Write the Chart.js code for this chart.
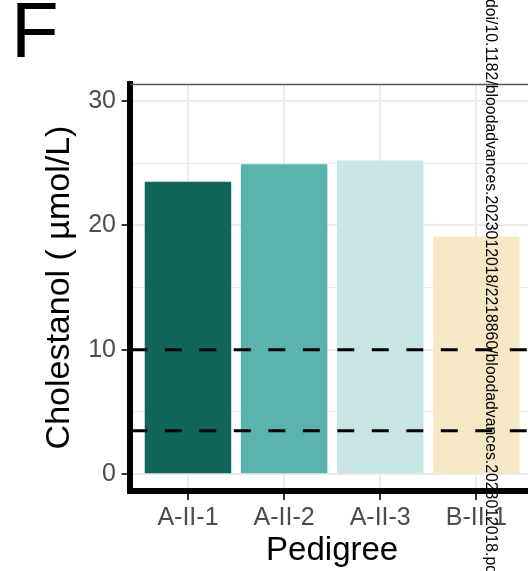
<!DOCTYPE html>
<html>
<head>
<meta charset="utf-8">
<script src="https://cdn.jsdelivr.net/npm/chart.js@4/dist/chart.umd.min.js"></script>
<style>
  html, body { margin:0; padding:0; background:#fff; overflow:hidden; }
  #outer { position:relative; width:528px; height:571px; overflow:hidden; }
  #inner { position:absolute; left:0; top:0; width:534px; height:571px; }
  #panelLabel { position:absolute; left:11px; top:-9px; font-family:'Liberation Sans', Arial, sans-serif; font-size:78px; line-height:1; color:#000; }
  #wm { position:absolute; left:499px; top:-1px; transform-origin:0 0; transform:rotate(90deg); white-space:nowrap;
        font-family:'Liberation Sans', Arial, sans-serif; font-size:15.8px; line-height:1; color:#000; }
</style>
</head>
<body>
<div id="outer">
  <div id="inner"><canvas id="c"></canvas></div>
  <div id="panelLabel">F</div>
  <div id="wm">doi/10.1182/bloodadvances.2023012018/2218860/bloodadvances.2023012018.pdf</div>
</div>
<script>
// ---- data ----
const categories = ['A-II-1', 'A-II-2', 'A-II-3', 'B-II-1'];
const cholestanol = [23.5, 24.9, 25.2, 19.1];
const barColors = ['#11665a', '#5ab4ac', '#c7e6e3', '#f5e8c4'];
const refLines = [10, 3.5];
const yTicks = [0, 10, 20, 30];
const yMinorTicks = [5, 15, 25];
const xRange = [0.4, 4.6];
const yRange = [-1.35, 31.35];

Chart.defaults.font.family = "'Liberation Sans', Arial, sans-serif";

const barData = categories.map((c, i) => ({ x: i + 1, y: cholestanol[i] }));
const refSets = refLines.map(v => ({
  type: 'line',
  data: [{ x: xRange[0], y: v }, { x: xRange[1], y: v }],
  borderColor: '#000',
  borderWidth: 3,
  borderDash: [17, 17.5],
  pointRadius: 0,
  fill: false,
  order: 0
}));

const panelBorder = {
  id: 'panelBorder',
  afterDraw(chart) {
    const a = chart.chartArea, ctx = chart.ctx;
    ctx.save();
    ctx.strokeStyle = '#555';
    ctx.lineWidth = 1.3;
    ctx.beginPath();
    ctx.moveTo(a.left, a.top + 0.5);
    ctx.lineTo(a.right, a.top + 0.5);
    ctx.lineTo(a.right, a.bottom);
    ctx.stroke();
    ctx.restore();
  }
};

new Chart(document.getElementById('c'), {
  type: 'bar',
  data: {
    datasets: [
      {
        type: 'bar',
        data: barData,
        backgroundColor: barColors,
        borderWidth: 0,
        categoryPercentage: 0.9,
        barPercentage: 1.0,
        order: 1
      },
      ...refSets
    ]
  },
  options: {
    responsive: true,
    maintainAspectRatio: false,
    animation: false,
    layout: { padding: { top: 84, left: 0, right: 0, bottom: 0 } },
    plugins: { legend: { display: false }, tooltip: { enabled: false }, title: { display: false } },
    scales: {
      x: {
        type: 'linear',
        min: xRange[0],
        max: xRange[1],
        offset: false,
        afterBuildTicks: s => { s.ticks = categories.map((c, i) => ({ value: i + 1 })); },
        afterFit: s => { s.height = 80; },
        grid: { offset: false, color: '#ebebeb', lineWidth: 2, tickColor: '#333', tickLength: 9, tickWidth: 2 },
        border: { display: true, color: '#000', width: 6, z: 1 },
        ticks: {
          color: '#4d4d4d', font: { size: 25 }, padding: 3.6, maxRotation: 0, autoSkip: false,
          callback: v => categories[Math.round(v) - 1] || ''
        },
        title: { display: true, text: 'Pedigree', color: '#000', font: { size: 33 }, padding: { top: 0, bottom: 0 } }
      },
      y: {
        type: 'linear',
        min: yRange[0],
        max: yRange[1],
        afterBuildTicks: s => { s.ticks = yTicks.concat(yMinorTicks).sort((a, b) => a - b).map(v => ({ value: v })); },
        afterFit: s => { s.width = 130.3; },
        grid: {
          color: '#ebebeb',
          lineWidth: ctx => (ctx.tick && yTicks.includes(ctx.tick.value)) ? 2 : 1,
          tickColor: ctx => (ctx.tick && yTicks.includes(ctx.tick.value)) ? '#333' : 'rgba(0,0,0,0)',
          tickLength: 8.7,
          tickWidth: 2
        },
        border: { display: true, color: '#000', width: 6, z: 1 },
        ticks: {
          color: '#4d4d4d', font: { size: 25 }, padding: 5.6,
          callback: v => yTicks.includes(v) ? String(v) : ''
        },
        title: { display: true, text: 'Cholestanol ( µmol/L)', color: '#000', font: { size: 34 }, padding: { top: 39, bottom: 0 } }
      }
    }
  },
  plugins: [panelBorder]
});
</script>
</body>
</html>
